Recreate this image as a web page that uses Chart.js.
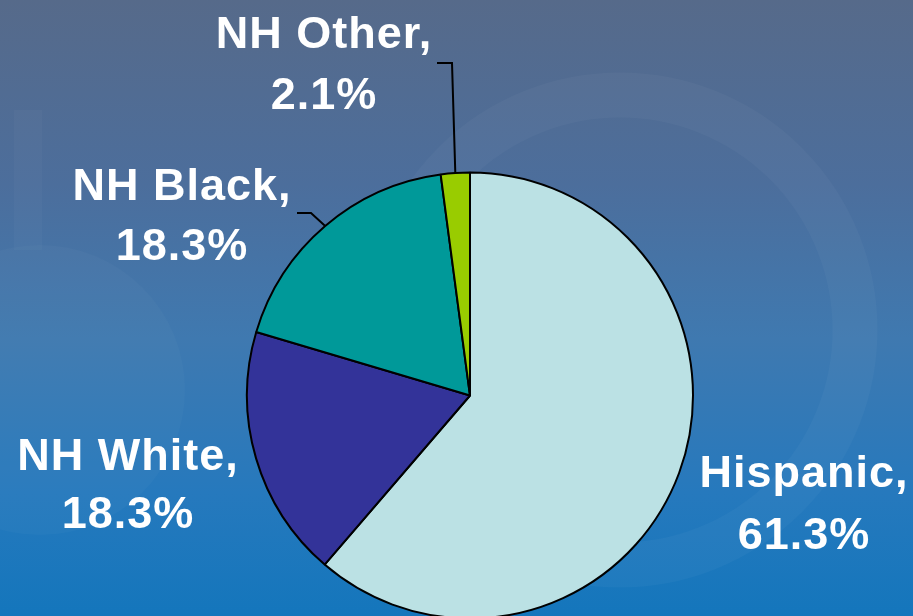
<!DOCTYPE html>
<html>
<head>
<meta charset="utf-8">
<script src="https://cdn.jsdelivr.net/npm/chart.js@4.4.0/dist/chart.umd.min.js"></script>
<style>
  html, body { margin: 0; padding: 0; width: 913px; height: 616px; overflow: hidden; }
  body { background: linear-gradient(to bottom, #566a8a 0%, #4c6e9c 30%, #3f79b0 55%, #2679bd 80%, #1476bc 100%); }
  canvas { display: block; }
</style>
</head>
<body>
<canvas id="pie" width="913" height="640"></canvas>
<script>
const groups = ['Hispanic', 'NH White', 'NH Black', 'NH Other'];
const shares = [61.3, 18.3, 18.3, 2.1];
const sliceColors = ['#bbe1e4', '#333399', '#009999', '#99cc00'];

// where each label sits (line centres) and whether it gets a leader line
const labelLayout = [
  { x: 804, y: [475, 537], leader: null },
  { x: 128, y: [458, 516], leader: null },
  { x: 182, y: [188, 248], leader: [[297, 213], [311, 213]] },
  { x: 324, y: [36, 97], leader: [[437, 63], [452, 63]] }
];

const backdrop = {
  id: 'backdrop',
  beforeDraw(chart) {
    const ctx = chart.ctx;
    ctx.save();
    ctx.strokeStyle = 'rgba(255,255,255,0.03)';
    ctx.lineWidth = 45;
    ctx.beginPath();
    ctx.arc(620, 330, 235, 0, Math.PI * 2);
    ctx.stroke();
    ctx.fillStyle = 'rgba(255,255,255,0.025)';
    ctx.beginPath();
    ctx.arc(40, 390, 145, 0, Math.PI * 2);
    ctx.fill();
    ctx.lineWidth = 28;
    ctx.strokeStyle = 'rgba(255,255,255,0.025)';
    ctx.beginPath();
    ctx.moveTo(28, 110);
    ctx.lineTo(28, 250);
    ctx.stroke();
    ctx.restore();
  }
};

const sliceLabels = {
  id: 'sliceLabels',
  afterDraw(chart) {
    const ctx = chart.ctx;
    const arcs = chart.getDatasetMeta(0).data;
    ctx.save();
    ctx.font = 'bold 45px "Liberation Sans", Arial, sans-serif';
    ctx.letterSpacing = '1px';
    ctx.fillStyle = '#ffffff';
    ctx.textAlign = 'center';
    ctx.textBaseline = 'middle';
    arcs.forEach((arc, i) => {
      const lay = labelLayout[i];
      ctx.fillText(groups[i] + ',', lay.x, lay.y[0]);
      ctx.fillText(shares[i].toFixed(1) + '%', lay.x, lay.y[1]);
      if (lay.leader) {
        const mid = (arc.startAngle + arc.endAngle) / 2;
        const ex = arc.x + arc.outerRadius * Math.cos(mid);
        const ey = arc.y + arc.outerRadius * Math.sin(mid);
        ctx.strokeStyle = '#000000';
        ctx.lineWidth = 2;
        ctx.beginPath();
        ctx.moveTo(lay.leader[0][0], lay.leader[0][1]);
        ctx.lineTo(lay.leader[1][0], lay.leader[1][1]);
        ctx.lineTo(ex, ey);
        ctx.stroke();
      }
    });
    ctx.restore();
  }
};

new Chart(document.getElementById('pie').getContext('2d'), {
  type: 'pie',
  data: {
    labels: groups,
    datasets: [{
      data: shares,
      backgroundColor: sliceColors,
      borderColor: '#000000',
      borderWidth: 2
    }]
  },
  options: {
    responsive: false,
    animation: false,
    layout: { padding: { left: 246, right: 219, top: 171, bottom: 20 } },
    plugins: {
      legend: { display: false },
      tooltip: { enabled: false }
    }
  },
  plugins: [backdrop, sliceLabels]
});
</script>
</body>
</html>
